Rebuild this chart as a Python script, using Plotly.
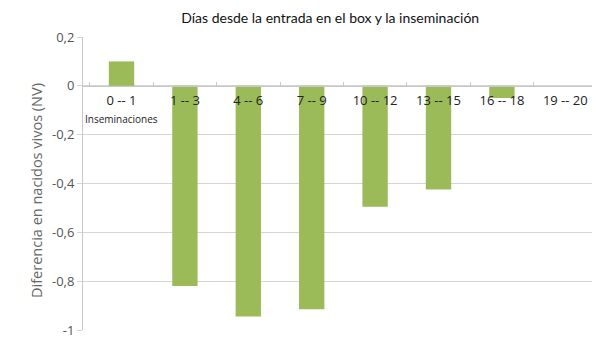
import plotly.graph_objects as go

categories = ["0 -- 1", "1 -- 3", "4 -- 6", "7 -- 9", "10 -- 12", "13 -- 15", "16 -- 18", "19 -- 20"]
values = [0.10, -0.82, -0.945, -0.915, -0.495, -0.425, -0.05, 0.0]
y_ticks = [0.2, 0, -0.2, -0.4, -0.6, -0.8, -1]
y_tick_labels = ["0,2", "0", "-0,2", "-0,4", "-0,6", "-0,8", "-1"]

ymin, ymax = -1.0, 0.2
zero_pos = (0 - ymin) / (ymax - ymin)

fig = go.Figure(go.Bar(x=categories, y=values, marker_color="#9BBB59",
                       marker_line_width=0, width=0.4))

fig.update_layout(
    width=600, height=359,
    margin=dict(l=75, r=11, t=29, b=37),
    plot_bgcolor="white", paper_bgcolor="white",
    showlegend=False,
    font=dict(family="Open Sans", color="#222"),
    title=dict(text="Días desde la entrada en el box y la inseminación",
               x=0.537, xanchor="center", y=0.972, yanchor="middle",
               font=dict(size=14, color="#111", family="Lato")),
    xaxis=dict(anchor="free", position=zero_pos, showline=True, linecolor="#c8c8c8",
               linewidth=1, ticks="inside", ticklen=4, tickcolor="#c8c8c8",
               tickson="boundaries", showgrid=False, ticklabelstandoff=3,
               tickfont=dict(size=13, color="#222", family="Open Sans")),
    yaxis=dict(range=[ymin, ymax], tickvals=y_ticks, ticktext=y_tick_labels,
               showgrid=True, gridcolor="#d4d4d4", zeroline=False,
               showline=True, linecolor="#c8c8c8", ticks="outside", ticklen=5,
               tickcolor="#d4d4d4",
               tickfont=dict(size=13, color="#555")),
)

fig.add_annotation(x=-0.0895, y=0.478, xref="paper", yref="paper",
                   text="Diferencia en nacidos vivos (NV)", textangle=-90,
                   showarrow=False, xanchor="center", yanchor="middle",
                   font=dict(size=14.5, color="#666"))

fig.add_annotation(x=categories[0], y=0, xref="x", yref="y", text="Inseminaciones",
                   showarrow=False, yshift=-33, font=dict(size=10, color="#222"))

fig.write_html("out.html")
